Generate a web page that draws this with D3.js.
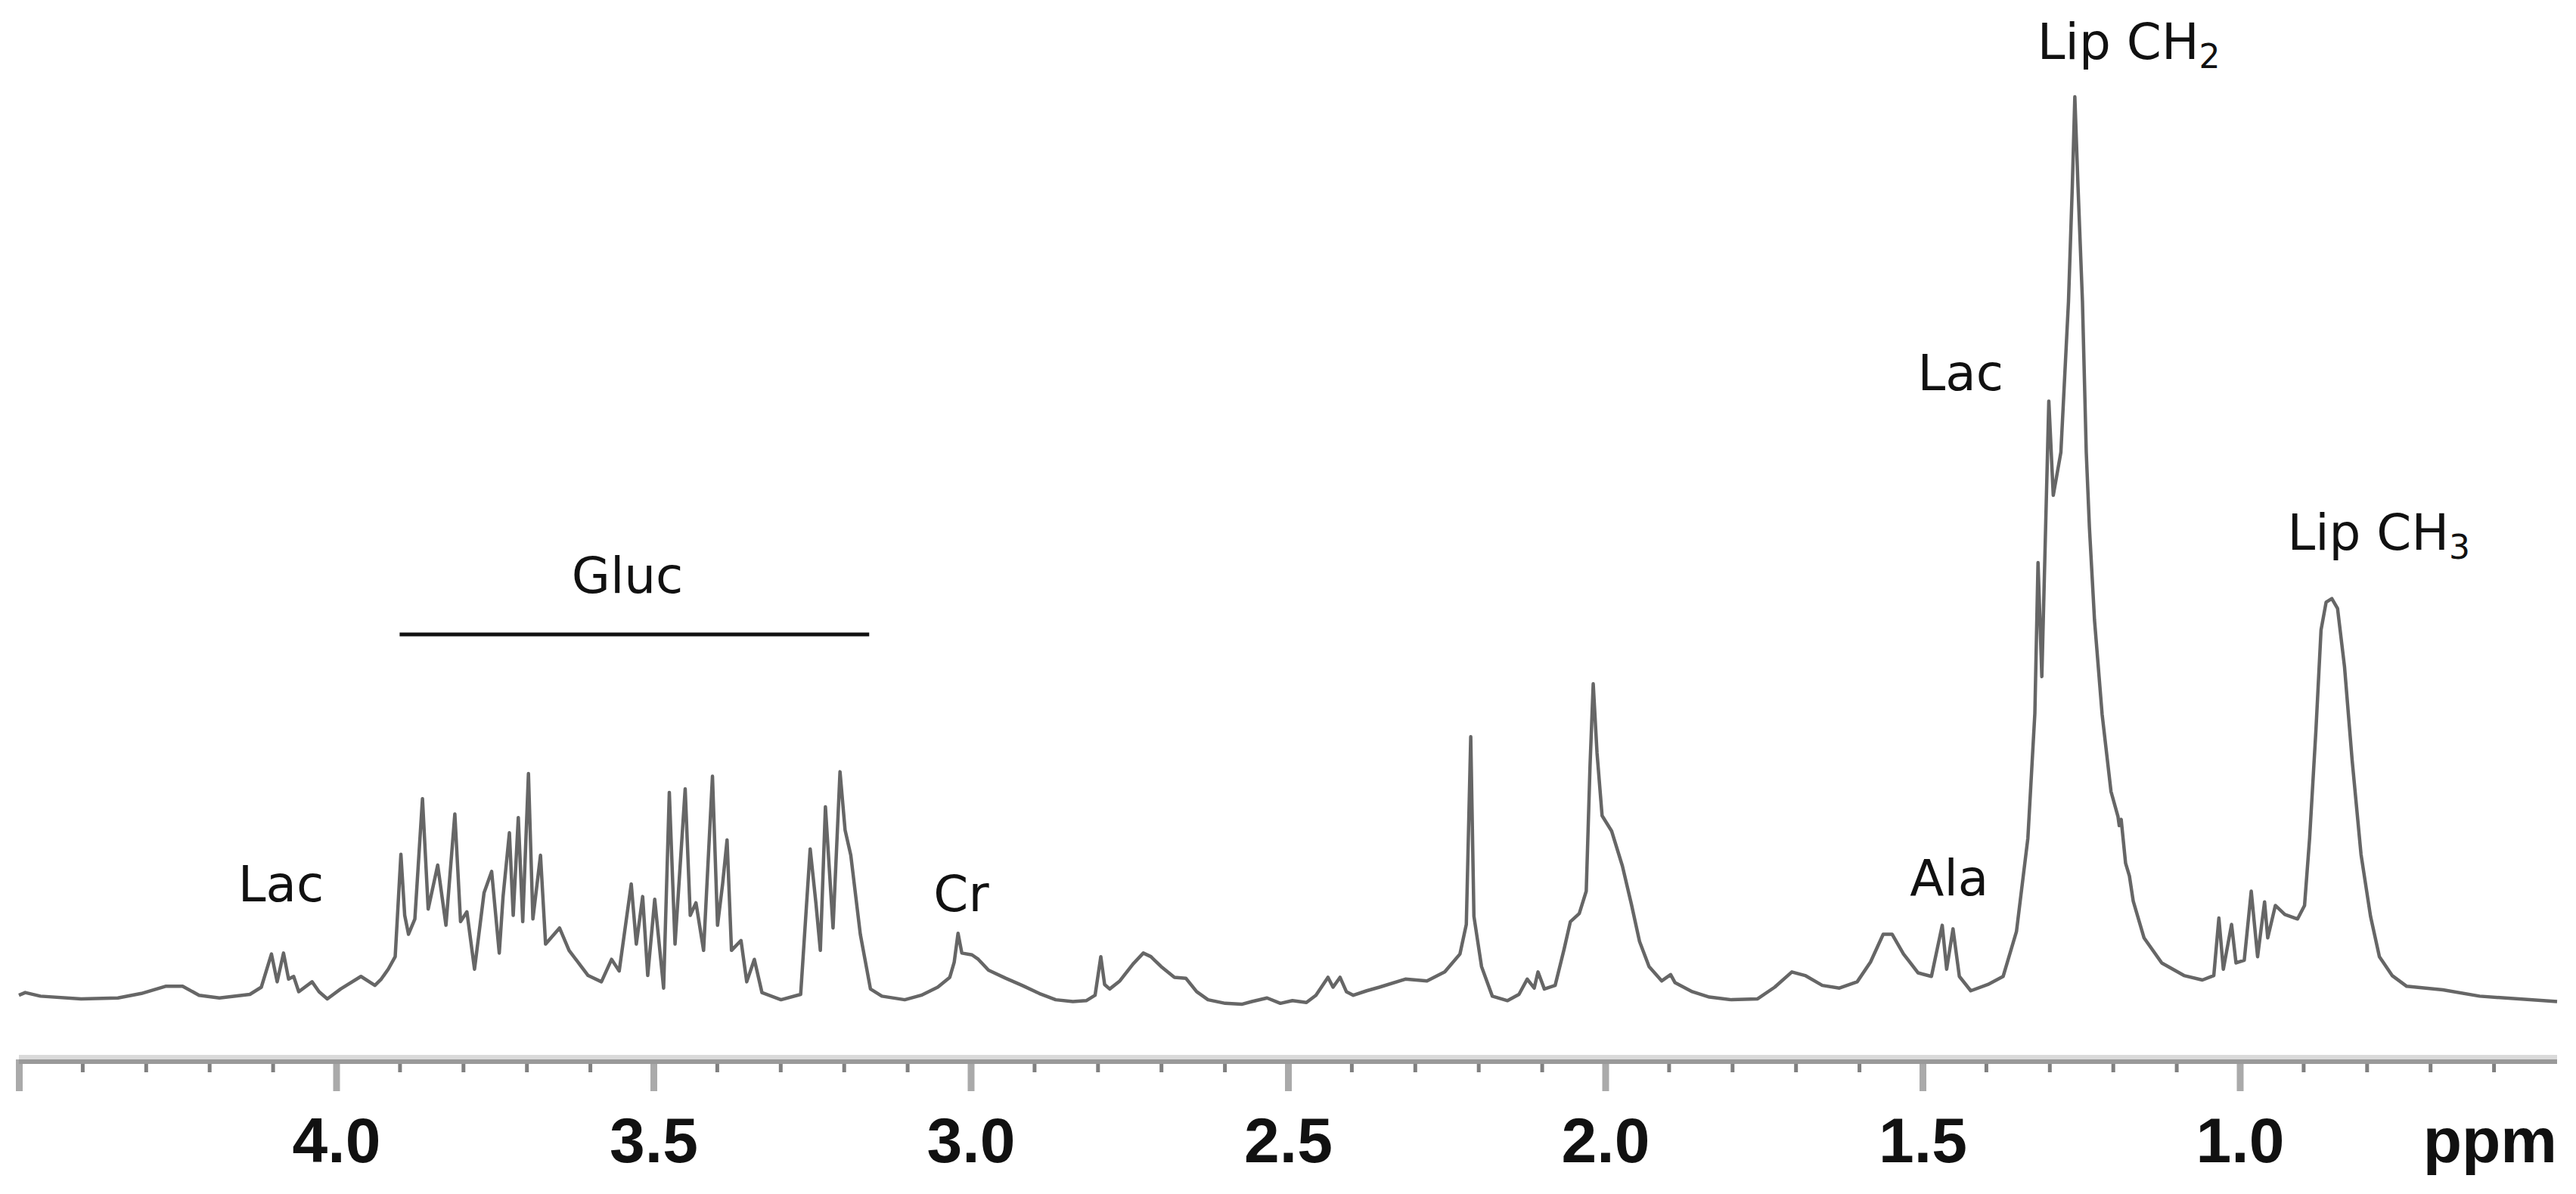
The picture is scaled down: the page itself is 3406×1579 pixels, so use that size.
<!DOCTYPE html>
<html lang="en">
<head>
    <meta charset="UTF-8">
    <title>1H NMR spectrum</title>
    <style>

        body {
            margin: 0;
            background: #fff;
        }

        .label {
            font-family: "DejaVu Sans", sans-serif;
            font-size: 66px;
            fill: #111;
        }

        .major text, text.unit {
            font-family: "Liberation Sans", Arial, sans-serif;
            font-size: 84px;
            font-weight: bold;
            fill: #111;
        }

    </style>
</head>
<body>
    <script src="https://d3js.org/d3.v7.min.js"></script>
    <script>

        // chemical shift (ppm) and intensity (Lip CH2 peak = 100)
        var ppm = [
            4.500, 4.490, 4.466, 4.402, 4.344, 4.307, 4.269, 4.242, 4.216, 4.184,
            4.136, 4.118, 4.102, 4.093, 4.083, 4.075, 4.067, 4.059, 4.038, 4.027,
            4.014, 3.993, 3.961, 3.939, 3.929, 3.918, 3.907, 3.898, 3.892, 3.886,
            3.876, 3.864, 3.855, 3.840, 3.827, 3.813, 3.804, 3.794, 3.782, 3.767,
            3.755, 3.743, 3.737, 3.727, 3.721, 3.713, 3.706, 3.697, 3.690, 3.678,
            3.670, 3.648, 3.633, 3.603, 3.582, 3.566, 3.554, 3.535, 3.527, 3.517,
            3.509, 3.498, 3.484, 3.475, 3.466, 3.450, 3.442, 3.433, 3.421, 3.407,
            3.399, 3.391, 3.384, 3.377, 3.362, 3.353, 3.341, 3.329, 3.299, 3.268,
            3.253, 3.244, 3.237, 3.229, 3.217, 3.206, 3.198, 3.189, 3.174, 3.158,
            3.140, 3.104, 3.078, 3.052, 3.033, 3.026, 3.020, 3.014, 2.998, 2.988,
            2.972, 2.945, 2.919, 2.892, 2.866, 2.839, 2.818, 2.804, 2.795, 2.789,
            2.781, 2.765, 2.744, 2.728, 2.716, 2.700, 2.679, 2.661, 2.644, 2.626,
            2.599, 2.573, 2.557, 2.533, 2.512, 2.493, 2.471, 2.456, 2.437, 2.429,
            2.418, 2.408, 2.397, 2.376, 2.356, 2.315, 2.281, 2.253, 2.229, 2.219,
            2.212, 2.207, 2.195, 2.178, 2.154, 2.136, 2.123, 2.112, 2.106, 2.096,
            2.079, 2.065, 2.055, 2.041, 2.030, 2.024, 2.019, 2.013, 2.005, 1.990,
            1.973, 1.959, 1.946, 1.931, 1.911, 1.897, 1.890, 1.863, 1.836, 1.801,
            1.760, 1.733, 1.706, 1.685, 1.658, 1.631, 1.603, 1.582, 1.562, 1.548,
            1.530, 1.507, 1.486, 1.469, 1.462, 1.452, 1.442, 1.424, 1.397, 1.373,
            1.352, 1.334, 1.323, 1.318, 1.312, 1.301, 1.294, 1.282, 1.270, 1.264,
            1.260, 1.255, 1.248, 1.242, 1.237, 1.229, 1.217, 1.203, 1.192, 1.190,
            1.187, 1.180, 1.174, 1.168, 1.151, 1.123, 1.088, 1.059, 1.041, 1.033,
            1.026, 1.013, 1.006, 0.993, 0.982, 0.972, 0.961, 0.956, 0.944, 0.929,
            0.909, 0.898, 0.890, 0.880, 0.872, 0.864, 0.855, 0.846, 0.835, 0.823,
            0.809, 0.794, 0.780, 0.760, 0.737, 0.680, 0.622, 0.500
        ];

        var intensity = [
            -0.1, 0.2, -0.2, -0.5, -0.4, 0.1, 0.9, 0.9, -0.1, -0.4,
            0.0, 0.8, 4.5, 1.4, 4.6, 1.7, 2.0, 0.3, 1.4, 0.3,
            -0.5, 0.6, 2.0, 1.0, 1.7, 2.8, 4.2, 15.6, 8.8, 6.7,
            8.4, 21.8, 9.5, 14.4, 7.7, 20.1, 8.1, 9.2, 2.8, 11.3,
            13.7, 4.6, 10.9, 18.0, 8.8, 19.7, 8.1, 24.6, 8.4, 15.5,
            5.6, 7.4, 4.9, 2.1, 1.4, 3.9, 2.6, 12.3, 5.6, 10.9,
            2.1, 10.6, 0.7, 22.5, 5.6, 22.9, 8.8, 10.2, 4.9, 24.3,
            7.7, 12.3, 17.2, 4.9, 6.0, 1.4, 3.9, 0.2, -0.6, 0.0,
            16.2, 10.2, 4.9, 20.9, 7.4, 24.8, 18.3, 15.5, 6.7, 0.6,
            -0.2, -0.6, -0.1, 0.8, 1.9, 3.6, 6.8, 4.6, 4.4, 3.9,
            2.7, 1.8, 1.0, 0.1, -0.6, -0.8, -0.7, -0.1, 4.2, 1.1,
            0.6, 1.5, 3.4, 4.6, 4.2, 3.1, 1.9, 1.8, 0.3, -0.6,
            -1.0, -1.1, -0.8, -0.4, -1.0, -0.7, -0.9, -0.1, 1.9, 0.8,
            1.9, 0.3, -0.1, 0.4, 0.8, 1.7, 1.5, 2.5, 4.5, 7.8,
            28.7, 8.7, 3.1, -0.2, -0.7, 0.0, 1.7, 0.7, 2.5, 0.6,
            1.0, 5.0, 8.1, 9.0, 11.5, 25.5, 34.6, 26.9, 19.9, 18.2,
            14.3, 10.1, 5.9, 3.1, 1.5, 2.2, 1.3, 0.3, -0.3, -0.6,
            -0.5, 0.8, 2.5, 2.1, 1.0, 0.7, 1.4, 3.6, 6.7, 6.7,
            4.5, 2.4, 2.0, 7.7, 2.8, 7.3, 2.0, 0.4, 1.1, 2.0,
            7.0, 17.4, 31.3, 48.1, 35.4, 66.1, 55.6, 60.4, 77.2, 90.0,
            100.0, 90.0, 77.2, 60.4, 52.0, 41.7, 31.2, 22.6, 19.8, 18.8,
            19.5, 14.6, 13.2, 10.4, 6.3, 3.5, 2.1, 1.6, 2.1, 8.5,
            2.8, 7.8, 3.5, 3.8, 11.5, 4.2, 10.3, 6.3, 9.9, 8.9,
            8.4, 9.9, 17.4, 29.5, 40.6, 43.7, 44.1, 43.0, 36.5, 26.1,
            15.6, 8.7, 4.2, 2.1, 0.9, 0.5, -0.2, -0.8
        ];

        var majorTicks = [4.5, 4.0, 3.5, 3.0, 2.5, 2.0, 1.5, 1.0];
        var minorTicks = [4.4, 4.3, 4.2, 4.1, 3.9, 3.8, 3.7, 3.6, 3.4, 3.3, 3.2, 3.1,
            2.9, 2.8, 2.7, 2.6, 2.4, 2.3, 2.2, 2.1, 1.9, 1.8, 1.7, 1.6,
            1.4, 1.3, 1.2, 1.1, 0.9, 0.8, 0.7, 0.6];

        // peak annotations: text, subscript, ppm position, intensity level of the text baseline
        var labelText = ["Lac", "Gluc", "Cr", "Ala", "Lac", "Lip CH", "Lip CH"];
        var labelSub = ["", "", "", "", "", "2", "3"];
        var labelPpm = [4.087, 3.541, 3.015, 1.458, 1.440, 1.175, 0.781];
        var labelLevel = [10.4, 44.7, 9.3, 11.0, 67.3, 104.2, 49.5];

        var glucRange = [3.90, 3.16];
        var glucLevel = 40.1;

        var width = 3406,
            height = 1579,
            axisY = 1401;

        var x = d3.scaleLinear()
            .domain([4.5, 0.5])
            .range([25, 3381]);

        var y = d3.scaleLinear()
            .domain([0, 100])
            .range([1315, 128]);

        var svg = d3.select("body").append("svg")
            .attr("width", width)
            .attr("height", height);

        // minor ticks
        var minor = svg.append("g")
            .attr("transform", "translate(0," + axisY + ")")
            .call(d3.axisBottom(x).tickValues(minorTicks).tickSize(17).tickSizeOuter(0).tickFormat(""));
        minor.select(".domain").remove();
        minor.selectAll("line").attr("stroke", "#808080").attr("stroke-width", 5);

        // major ticks with labels
        var major = svg.append("g")
            .attr("class", "major")
            .attr("transform", "translate(0," + axisY + ")")
            .call(d3.axisBottom(x).tickValues(majorTicks).tickSize(42).tickSizeOuter(0)
                .tickFormat(function(d) { return d < 4.25 ? d.toFixed(1) : ""; }));
        major.select(".domain").remove();
        major.selectAll("line").attr("stroke", "#aaa").attr("stroke-width", 9);
        major.selectAll("text").attr("y", 76);

        // axis band: light upper half, darker lower half
        svg.append("rect")
            .attr("x", x(4.5))
            .attr("y", axisY - 6)
            .attr("width", x(0.5) - x(4.5))
            .attr("height", 6)
            .attr("fill", "#dadada");
        svg.append("rect")
            .attr("x", x(4.5))
            .attr("y", axisY)
            .attr("width", x(0.5) - x(4.5))
            .attr("height", 6)
            .attr("fill", "#999");

        svg.append("text")
            .attr("class", "unit")
            .attr("x", x(0.5))
            .attr("y", 1537)
            .attr("text-anchor", "end")
            .text("ppm");

        // spectrum
        var line = d3.line()
            .x(function(d) { return x(d[0]); })
            .y(function(d) { return y(d[1]); });

        svg.append("path")
            .datum(d3.zip(ppm, intensity))
            .attr("d", line)
            .attr("fill", "none")
            .attr("stroke", "#666")
            .attr("stroke-width", 4.5)
            .attr("stroke-linejoin", "round");

        // glucose bracket
        svg.append("line")
            .attr("x1", x(glucRange[0]))
            .attr("x2", x(glucRange[1]))
            .attr("y1", y(glucLevel))
            .attr("y2", y(glucLevel))
            .attr("stroke", "#111")
            .attr("stroke-width", 5);

        var labels = svg.selectAll(".label")
            .data(d3.range(labelText.length))
            .enter().append("text")
            .attr("class", "label")
            .attr("x", function(i) { return x(labelPpm[i]); })
            .attr("y", function(i) { return y(labelLevel[i]); })
            .attr("text-anchor", "middle");

        labels.append("tspan")
            .text(function(i) { return labelText[i]; });

        labels.filter(function(i) { return labelSub[i] !== ""; })
            .append("tspan")
            .attr("dy", 12)
            .style("font-size", "44px")
            .text(function(i) { return labelSub[i]; });

    </script>
</body>
</html>
